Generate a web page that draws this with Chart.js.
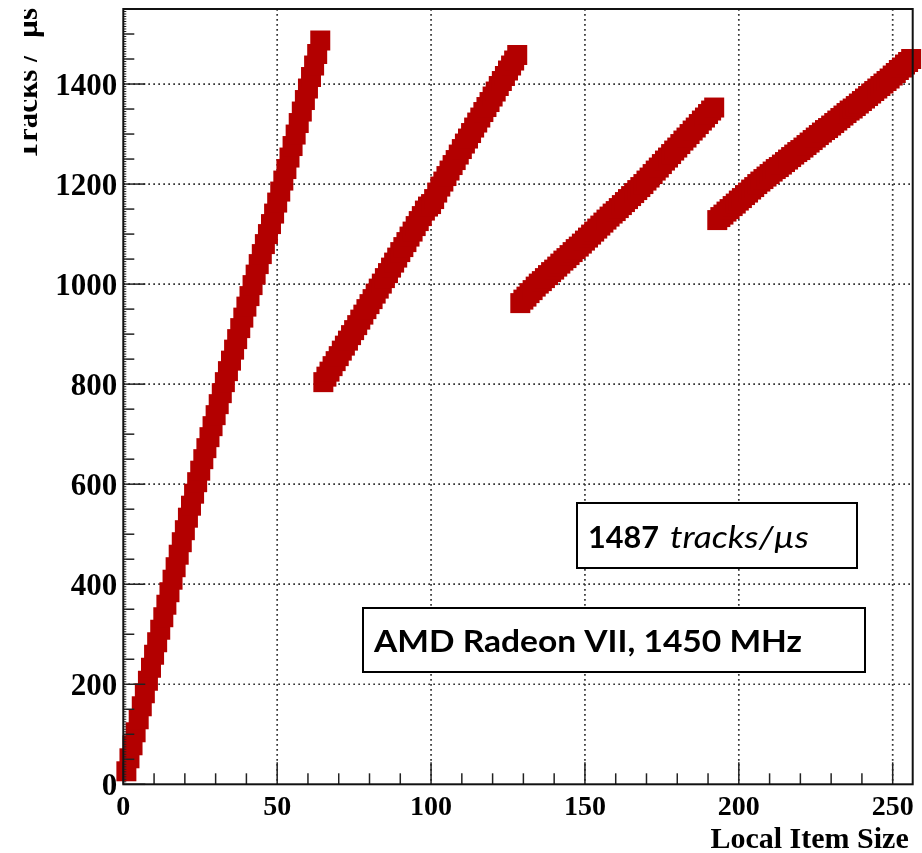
<!DOCTYPE html>
<html>
<head>
<meta charset="utf-8">
<script src="https://cdn.jsdelivr.net/npm/chart.js@4.4.1/dist/chart.umd.min.js"></script>
<style>
  html, body { margin: 0; padding: 0; background: #fff; }
  canvas { display: block; }
</style>
</head>
<body>
<canvas id="myChart" width="922" height="853"></canvas>
<script>
// throughput (tracks/µs) vs. local item size, one run per 64-wide block
const blockStart = [1, 65, 129, 193];
const run1 = [26, 52, 78, 104, 130, 156, 182, 207, 233, 259, 284, 309, 334, 359, 384, 409,
  434, 459, 484, 508, 533, 557, 581, 604, 627, 650, 672, 694, 716, 738, 760, 782,
  804, 826, 847, 869, 890, 912, 933, 955, 976, 998, 1019, 1040, 1060, 1080, 1100, 1120,
  1141, 1163, 1185, 1207, 1230, 1253, 1276, 1299, 1322, 1345, 1368, 1391, 1414, 1437, 1460, 1487];
const run2 = [804, 815, 825, 836, 846, 856, 867, 877, 887, 898, 908, 918, 929, 939, 950, 960,
  970, 981, 991, 1001, 1012, 1022, 1033, 1043, 1053, 1064, 1074, 1084, 1095, 1105, 1116, 1126,
  1136, 1147, 1155, 1160, 1170, 1183, 1195, 1205, 1216, 1227, 1238, 1248, 1259, 1270, 1281, 1291,
  1302, 1313, 1323, 1333, 1344, 1354, 1364, 1375, 1385, 1396, 1406, 1416, 1427, 1437, 1447, 1458];
const run3 = [962, 969, 975, 982, 988, 995, 1001, 1006, 1012, 1018, 1024, 1029, 1035, 1041, 1047, 1052,
  1058, 1064, 1070, 1075, 1081, 1087, 1093, 1099, 1105, 1111, 1117, 1123, 1129, 1135, 1141, 1146,
  1152, 1158, 1164, 1170, 1176, 1182, 1188, 1194, 1200, 1207, 1213, 1220, 1227, 1233, 1240, 1247,
  1253, 1260, 1267, 1273, 1280, 1287, 1293, 1300, 1307, 1313, 1320, 1327, 1333, 1340, 1347, 1353];
const run4 = [1128, 1134, 1139, 1145, 1150, 1156, 1161, 1167, 1172, 1178, 1183, 1189, 1194, 1200, 1205, 1210,
  1215, 1220, 1225, 1230, 1234, 1239, 1244, 1249, 1254, 1259, 1264, 1268, 1273, 1278, 1283, 1288,
  1293, 1298, 1303, 1308, 1312, 1317, 1322, 1327, 1332, 1337, 1342, 1347, 1351, 1356, 1361, 1366,
  1371, 1376, 1381, 1386, 1391, 1396, 1401, 1406, 1411, 1417, 1422, 1428, 1433, 1439, 1444, 1450];
const runs = [run1, run2, run3, run4];

const xTicks = [0, 50, 100, 150, 200, 250];
const yTicks = [0, 200, 400, 600, 800, 1000, 1200, 1400];

const peakLabel = "1487";
const peakUnit = "tracks/µs";
const deviceLabel = "AMD Radeon VII, 1450 MHz";
const xTitle = "Local Item Size";
const yTitle = "Tracks /  µs";

const RED = "#b30000";
const SERIF = "'Liberation Serif', 'DejaVu Serif', serif";
const SANS = "Lato, 'Open Sans', sans-serif";

const datasets = runs.map((vals, s) => ({
  data: vals.map((v, i) => ({ x: blockStart[s] + i, y: v })),
  pointStyle: "rect",
  pointRadius: 14.14,
  pointHoverRadius: 14.14,
  backgroundColor: RED,
  borderColor: RED,
  borderWidth: 0,
  showLine: false,
  clip: false,
}));

function line(ctx, x1, y1, x2, y2) {
  ctx.beginPath();
  ctx.moveTo(x1, y1);
  ctx.lineTo(x2, y2);
  ctx.stroke();
}

// squeeze/stretch text horizontally so it spans the given width
function fitText(ctx, text, x, y, width) {
  const w = ctx.measureText(text).width;
  ctx.save();
  ctx.translate(x, y);
  ctx.scale(width / w, 1);
  ctx.fillText(text, 0, 0);
  ctx.restore();
}

const rootFrame = {
  id: "rootFrame",
  beforeDatasetsDraw(chart) {
    const { ctx, chartArea: { left, right, top, bottom }, scales: { x, y } } = chart;
    // dotted grid at major ticks
    ctx.save();
    ctx.strokeStyle = "#333";
    ctx.lineWidth = 1.7;
    ctx.setLineDash([1.7, 3.3]);
    xTicks.forEach((v) => {
      if (v === 0) return;
      const px = x.getPixelForValue(v);
      line(ctx, px, top, px, bottom);
    });
    yTicks.forEach((v) => {
      if (v === 0) return;
      const py = y.getPixelForValue(v);
      line(ctx, left, py, right, py);
    });
    ctx.restore();
  },
  afterDatasetsDraw(chart) {
    const { ctx, chartArea: { left, right, top, bottom }, scales: { x, y } } = chart;
    ctx.save();
    // inward ticks on the x axis
    ctx.strokeStyle = "#222";
    ctx.lineWidth = 1.5;
    for (let v = 0; v <= x.max; v += 10) {
      const px = x.getPixelForValue(v);
      const len = v % 50 === 0 ? 22 : 11;
      line(ctx, px, bottom, px, bottom - len);
    }
    // inward ticks on the y axis
    for (let v = 0; v <= y.max; v += 5) {
      const py = y.getPixelForValue(v);
      let len = 3;
      if (v % 200 === 0) len = 22;
      else if (v % 50 === 0) len = 11;
      ctx.lineWidth = len === 3 ? 1 : 1.5;
      line(ctx, left, py, left + len, py);
    }
    // frame
    ctx.strokeStyle = "#111";
    ctx.lineWidth = 2;
    ctx.strokeRect(left, top, right - left, bottom - top);

    // tick labels
    ctx.fillStyle = "#000";
    ctx.textBaseline = "alphabetic";
    ctx.font = "bold 28px " + SERIF;
    ctx.textAlign = "center";
    xTicks.forEach((v) => {
      ctx.fillText(String(v), x.getPixelForValue(v), bottom + 31);
    });
    ctx.font = "bold 31px " + SERIF;
    ctx.textAlign = "right";
    yTicks.forEach((v) => {
      ctx.fillText(String(v), left - 6, y.getPixelForValue(v) + 11);
    });
    ctx.restore();
  },
  afterDraw(chart) {
    const { ctx, chartArea: { right } } = chart;
    ctx.save();
    ctx.fillStyle = "#000";

    // x axis title, right aligned
    ctx.font = "bold 30px " + SERIF;
    ctx.textAlign = "right";
    ctx.textBaseline = "alphabetic";
    ctx.fillText(xTitle, right - 4, 848);

    // y axis title, rotated; the outer half is cut off
    ctx.save();
    ctx.beginPath();
    ctx.rect(24, 0, 60, 200);
    ctx.clip();
    ctx.translate(37, 8);
    ctx.rotate(-Math.PI / 2);
    ctx.font = "bold 31px " + SERIF;
    ctx.textAlign = "right";
    ctx.fillText(yTitle, 0, 0);
    ctx.restore();

    // annotation boxes
    const boxes = [
      { x: 577, y: 503, w: 280, h: 65 },
      { x: 363, y: 608, w: 502, h: 64 },
    ];
    boxes.forEach((b) => {
      ctx.fillStyle = "#fff";
      ctx.fillRect(b.x, b.y, b.w, b.h);
      ctx.strokeStyle = "#000";
      ctx.lineWidth = 2;
      ctx.strokeRect(b.x, b.y, b.w, b.h);
    });

    ctx.fillStyle = "#000";
    ctx.textAlign = "left";
    ctx.textBaseline = "alphabetic";
    ctx.font = "bold 31px " + SANS;
    fitText(ctx, peakLabel, 588, 548, 71);
    ctx.font = "italic 31px " + SANS;
    fitText(ctx, peakUnit, 670, 548, 139);
    ctx.font = "bold 31px " + SANS;
    fitText(ctx, deviceLabel, 374, 652, 428);
    ctx.restore();
  },
};

new Chart(document.getElementById("myChart").getContext("2d"), {
  type: "scatter",
  data: { datasets },
  options: {
    responsive: false,
    animation: false,
    devicePixelRatio: 1,
    layout: { autoPadding: false, padding: { left: 0, top: 9, right: 9.3, bottom: 0 } },
    scales: {
      x: {
        type: "linear",
        min: 0,
        max: 256.5,
        afterBuildTicks: (s) => { s.ticks = xTicks.map((v) => ({ value: v })); },
        afterFit: (s) => { s.height = 68.7; },
        grid: { display: false, drawTicks: false },
        border: { display: false },
        ticks: { display: false },
      },
      y: {
        type: "linear",
        min: 0,
        max: 1550,
        afterBuildTicks: (s) => { s.ticks = yTicks.map((v) => ({ value: v })); },
        afterFit: (s) => { s.width = 123.3; },
        grid: { display: false, drawTicks: false },
        border: { display: false },
        ticks: { display: false },
      },
    },
    plugins: {
      legend: { display: false },
      tooltip: { enabled: false },
    },
    events: [],
  },
  plugins: [rootFrame],
});
</script>
</body>
</html>
